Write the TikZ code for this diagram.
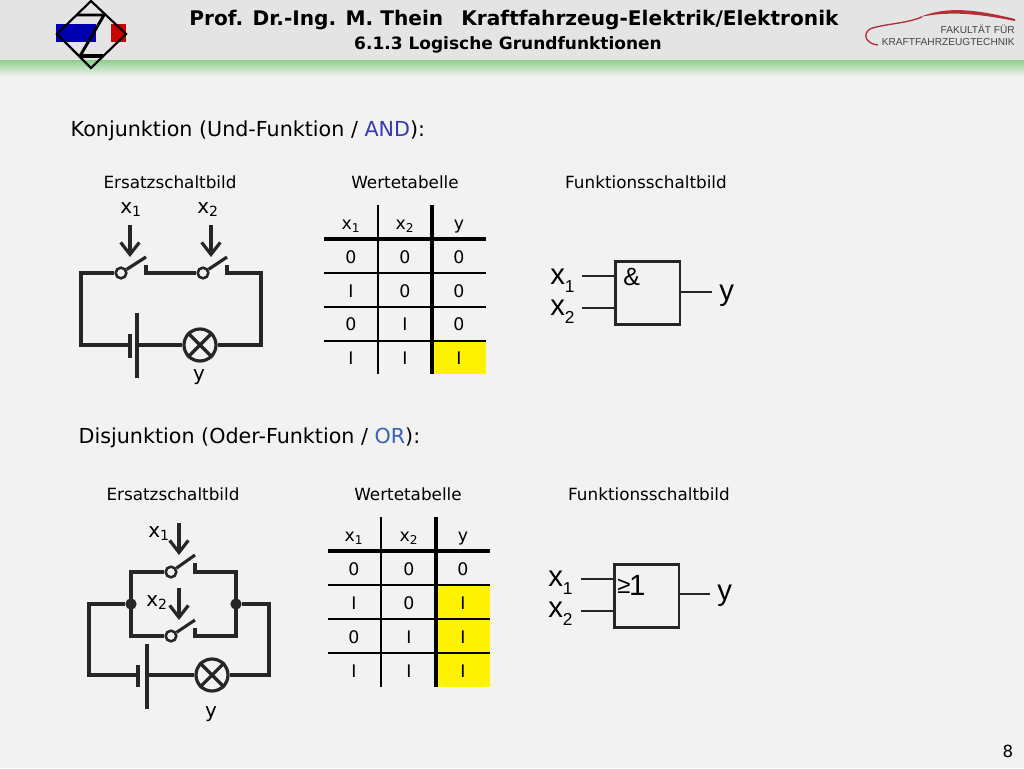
\documentclass[tikz,border=0pt]{standalone}
\usepackage{fontspec}
\setmainfont{DejaVu Sans}
\newfontfamily\gatefont{Liberation Sans}
\usetikzlibrary{arrows.meta}
\definecolor{pagebg}{HTML}{F2F2F2}
\definecolor{headbg}{HTML}{E4E4E4}
\definecolor{headgreen}{HTML}{8CCF8C}
\definecolor{andblue}{HTML}{3838B0}
\definecolor{orblue}{HTML}{3A62B0}
\definecolor{carred}{HTML}{B03038}
\definecolor{logotext}{HTML}{444444}
\newcommand{\fs}[1]{\fontsize{#1}{#1}\selectfont}
\newcommand{\gsub}[1]{\raisebox{-6pt}{\fs{13}#1}}
\tikzset{
  wire/.style={line width=2.4pt,color=black!85},
  thinwire/.style={line width=2.3pt,color=black!85},
  push/.style={line width=2.4pt,color=black!85,-{Straight Barb[length=9pt,width=14pt,line width=2.4pt]}},
  contact/.style={circle,draw=black!85,line width=1.9pt,fill=pagebg,minimum size=8pt,inner sep=0pt},
  lamp/.style={circle,draw=black!85,line width=2.4pt,fill=pagebg,minimum size=24pt,inner sep=0pt},
  joint/.style={circle,fill=black!85,minimum size=8.5pt,inner sep=0pt},
  gate/.style={draw=black!85,line width=2pt,anchor=north west,inner sep=0pt},
  gateline/.style={line width=1.7pt,color=black!85},
  heading/.style={anchor=west,font=\fs{15.5}},
  caption/.style={font=\fs{12.6}},
  cell/.style={font=\fs{13}},
  pinlabel/.style={font=\fs{15}},
  gatelabel/.style={anchor=base west,inner sep=0pt,font=\gatefont\fs{22}},
  rulethin/.style={line width=1pt},
  rulethick/.style={line width=3pt}
}
\begin{document}
\begin{tikzpicture}[x=.75pt,y=-.75pt]
\useasboundingbox (0,0) rectangle (1024,768);
\fill[pagebg] (0,0) rectangle (1024,768);
\fill[headbg] (0,0) rectangle (1024,60);
\shade[top color=headgreen,bottom color=pagebg] (0,60) rectangle (1024,76);
\node (title) at (514,20) {\fs{15.1}\bfseries Prof. Dr.-Ing. M. Thein\hspace{.9em}Kraftfahrzeug-Elektrik/Elektronik};
\node (subtitle) at (508,44.5) {\fs{12.75}\bfseries 6.1.3 Logische Grundfunktionen};
\node (pagenum) at (1008,751) {\fs{12.5}8};

% logo left
\fill[blue!70!black] (56,24) rectangle (96,42);
\fill[black!10] (96,24) rectangle (111,42);
\fill[red!80!black] (111,24) rectangle (126,42);
\draw[line width=1.6pt] (91,1) -- (126,34) -- (91,68) -- (57,34) -- cycle;
\draw[line width=2.2pt] (77,15) -- (104,15) -- (80,56);
\draw[line width=2.6pt] (80,56) -- (103,56);

% logo right
\draw[carred,line width=1pt] (878,45) .. controls (866,44) and (862,34) .. (870,29) .. controls (882,24) and (905,24) .. (922,17);
\fill[carred] (920,17) .. controls (945,7) and (970,8) .. (1015,19) -- (1015,21) .. controls (970,12) and (945,12) .. (920,17);
\node[anchor=east,inner sep=0pt,logotext,font=\gatefont\fs{7.6}] (fak) at (1015,29) {FAKULTÄT FÜR};
\node[anchor=east,inner sep=0pt,logotext,font=\gatefont\fs{7.6}] (kft) at (1015,42) {KRAFTFAHRZEUGTECHNIK};

% AND
\node[heading] (andhead) at (66,131) {Konjunktion (Und-Funktion / \textcolor{andblue}{AND}):};
\node[caption] (andcapa) at (170,182) {Ersatzschaltbild};
\node[caption] (andcapb) at (405,182) {Wertetabelle};
\node[caption] (andcapc) at (646,182) {Funktionsschaltbild};

\node[contact] (as1) at (121,273) {};
\node[contact] (as2) at (203,273) {};
\node[lamp] (al) at (200,345) {};
\coordinate (ac1) at (146,265);
\coordinate (ac2) at (227,265);
\coordinate (acl) at (81,273);
\coordinate (acr) at (261,273);
\coordinate (abs) at (130,345);
\coordinate (abl) at (137,345);
\draw[wire] (as1) -- (acl) -- (81,345) -- (abs);
\draw[wire] (ac1) -- (146,273) -- (as2);
\draw[wire] (ac2) -- (227,273) -- (acr) -- (261,345) -- (al);
\draw[wire] (abl) -- (al);
\draw[wire] (as1) -- (146,257);
\draw[wire] (as2) -- (227,257);
\draw[wire] (130,334) -- (130,358);
\draw[wire] (137,313) -- (137,378);
\draw[wire] (al.north west) -- (al.south east);
\draw[wire] (al.north east) -- (al.south west);
\node[pinlabel] (alx1) at (131,209.5) {x\textsubscript{1}};
\node[pinlabel] (alx2) at (208,209.5) {x\textsubscript{2}};
\node[pinlabel] (aly) at (199,377) {y};
\coordinate (aa1) at (130,225);
\coordinate (aa2) at (211,225);
\draw[push] (aa1) -- (130,257);
\draw[push] (aa2) -- (211,257);

\fill[yellow] (434,341) rectangle (486,374);
\draw[rulethin] (378,205) -- (378,374);
\draw[rulethick] (432,205) -- (432,374);
\draw[rulethick] (324,239) -- (486,239);
\foreach \yy in {273,307,341} \draw[rulethin] (324,\yy) -- (486,\yy);
\node[cell] (ah1) at (351,226.5) {x\textsubscript{1}};
\node[cell] (ah2) at (405,226.5) {x\textsubscript{2}};
\node[cell] (ah3) at (459,226.5) {y};
\foreach \nn/\yy/\aa/\bb/\cc in {1/257/0/0/0,2/291/I/0/0,3/324/0/I/0,4/358/I/I/I} {
  \node[cell] (ara\nn) at (351,\yy) {\aa};
  \node[cell] (arb\nn) at (405,\yy) {\bb};
  \node[cell] (arc\nn) at (459,\yy) {\cc};
}

\node[gate,minimum width=48.5pt,minimum height=47.5pt] (ag) at (614,260) {};
\coordinate (agi1) at (582,276);
\coordinate (agi2) at (582,308);
\coordinate (ago) at (712,292);
\draw[gateline] (agi1) -- (agi1-|ag.west);
\draw[gateline] (agi2) -- (agi2-|ag.west);
\draw[gateline] (ago-|ag.east) -- (ago);
\node[gatelabel] (agx1) at (550,284) {x\gsub{1}};
\node[gatelabel] (agx2) at (550,315) {x\gsub{2}};
\node[gatelabel] (agy) at (719,300) {y};
\node[gatelabel,font=\gatefont\fs{18.7}] (agt) at (623,285) {\&};

% OR
\node[heading] (orhead) at (74,438) {Disjunktion (Oder-Funktion / \textcolor{orblue}{OR}):};
\node[caption] (orcapa) at (173,494) {Ersatzschaltbild};
\node[caption] (orcapb) at (408,494) {Wertetabelle};
\node[caption] (orcapc) at (649,494) {Funktionsschaltbild};

\node[contact] (os1) at (171,572) {};
\node[contact] (os2) at (171,636) {};
\node[joint] (oj1) at (131,604) {};
\node[joint] (oj2) at (236,604) {};
\node[lamp] (ol) at (212,675) {};
\coordinate (oc1) at (195,563);
\coordinate (oc2) at (195,628);
\draw[thinwire] (os1) -- (131,572) -- (131,636) -- (os2);
\draw[thinwire] (oc1) -- (195,572) -- (236,572) -- (236,636) -- (195,636) -- (oc2);
\draw[wire] (oj1) -- (89,604) -- (89,675) -- (138,675);
\draw[wire] (oj2) -- (269,604) -- (269,675) -- (ol);
\draw[wire] (147,675) -- (ol);
\draw[thinwire] (os1) -- (195,555);
\draw[thinwire] (os2) -- (195,620);
\draw[wire] (138,665) -- (138,687);
\draw[wire] (147,644) -- (147,709);
\draw[wire] (ol.north west) -- (ol.south east);
\draw[wire] (ol.north east) -- (ol.south west);
\node[pinlabel] (olx1) at (159,533.5) {x\textsubscript{1}};
\node[pinlabel] (olx2) at (157,602.5) {x\textsubscript{2}};
\node[pinlabel] (oly) at (211,714) {y};
\coordinate (oa1) at (179,523);
\coordinate (oa2) at (179,588);
\draw[push] (oa1) -- (179,555);
\draw[push] (oa2) -- (179,620);

\fill[yellow] (438,585) rectangle (490,687);
\draw[rulethin] (381,517) -- (381,687);
\draw[rulethick] (436,517) -- (436,687);
\draw[rulethick] (328,551) -- (490,551);
\foreach \yy in {585,619,653} \draw[rulethin] (328,\yy) -- (490,\yy);
\node[cell] (oh1) at (354,538.5) {x\textsubscript{1}};
\node[cell] (oh2) at (409,538.5) {x\textsubscript{2}};
\node[cell] (oh3) at (463,538.5) {y};
\foreach \nn/\yy/\aa/\bb/\cc in {1/569/0/0/0,2/603/I/0/I,3/637/0/I/I,4/671/I/I/I} {
  \node[cell] (ora\nn) at (354,\yy) {\aa};
  \node[cell] (orb\nn) at (409,\yy) {\bb};
  \node[cell] (orc\nn) at (463,\yy) {\cc};
}

\node[gate,minimum width=48.5pt,minimum height=47.5pt] (og) at (613,563) {};
\coordinate (ogi1) at (581,579);
\coordinate (ogi2) at (581,611);
\coordinate (ogo) at (710,594);
\draw[gateline] (ogi1) -- (ogi1-|og.west);
\draw[gateline] (ogi2) -- (ogi2-|og.west);
\draw[gateline] (ogo-|og.east) -- (ogo);
\node[gatelabel] (ogx1) at (548,586) {x\gsub{1}};
\node[gatelabel] (ogx2) at (548,617) {x\gsub{2}};
\node[gatelabel] (ogy) at (717,600) {y};
\node[gatelabel] (ogt) at (617,595) {{\raisebox{1pt}{\fs{18}≥}}\hspace{-1pt}1};
\end{tikzpicture}
\end{document}
